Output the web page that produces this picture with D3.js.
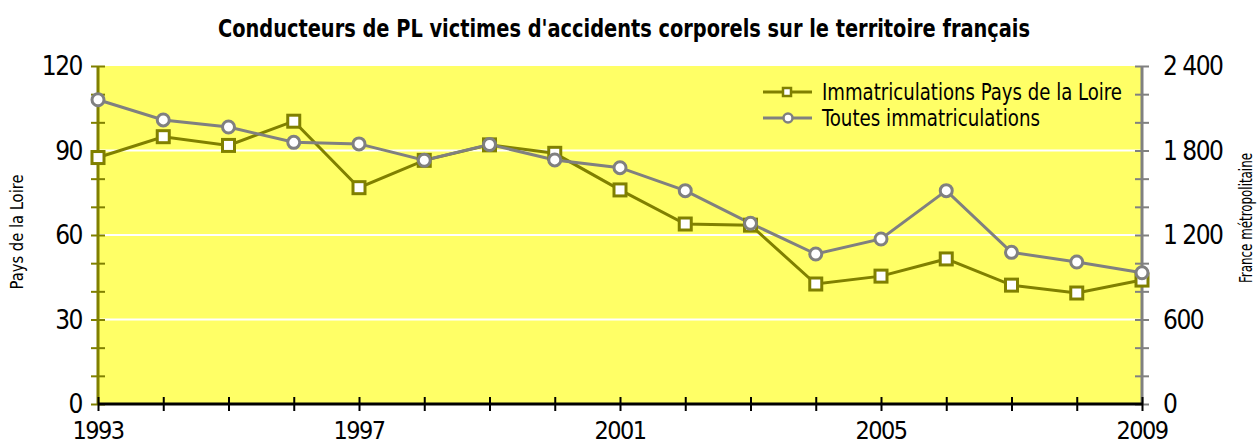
<!DOCTYPE html>
<html>
<head>
<meta charset="utf-8">
<script src="https://cdn.jsdelivr.net/npm/d3@7"></script>
<style>
  body { margin: 0; background: #fff; }
  svg text { font-family: "DejaVu Sans Condensed", "DejaVu Sans", sans-serif; fill: #000; }
</style>
</head>
<body>
<svg id="chart" width="1257" height="445"></svg>
<script>
// data
const years = [1993, 1994, 1995, 1996, 1997, 1998, 1999, 2000, 2001,
  2002, 2003, 2004, 2005, 2006, 2007, 2008, 2009];
const paysLoire = [87.5, 94.9, 91.8, 100.4, 76.8, 86.5, 92, 89, 76,
  63.9, 63.5, 42.6, 45.4, 51.5, 42.2, 39.4, 44];
const toutes = [2160, 2017, 1967, 1858, 1847, 1731, 1843, 1733, 1678,
  1515, 1283, 1065, 1172, 1515, 1077, 1008, 932];
const leftTicks = [0, 30, 60, 90, 120];
const rightTicks = [0, 600, 1200, 1800, 2400];
const yearLabels = [1993, 1997, 2001, 2005, 2009];
const titleText = "Conducteurs de PL victimes d'accidents corporels sur le territoire français";
const seriesNames = ["Immatriculations Pays de la Loire", "Toutes immatriculations"];

const olive = "#808000";
const grey = "#808080";

const svg = d3.select("#chart");
const plotLeft = 98, plotRight = 1142, plotTop = 66, plotBottom = 404;

const x = d3.scaleLinear().domain([1993, 2009]).range([plotLeft, plotRight]);
const yL = d3.scaleLinear().domain([0, 120]).range([plotBottom, plotTop]);
const yR = d3.scaleLinear().domain([0, 2400]).range([plotBottom, plotTop]);

// plot background
svg.append("rect")
  .attr("x", plotLeft).attr("y", plotTop)
  .attr("width", plotRight - plotLeft).attr("height", plotBottom - plotTop)
  .attr("fill", "#ffff66");

// white gridlines
svg.append("g").selectAll("line")
  .data(leftTicks.filter(d => d > 0 && d < 120))
  .enter().append("line")
  .attr("x1", plotLeft).attr("x2", plotRight)
  .attr("y1", d => yL(d)).attr("y2", d => yL(d))
  .attr("stroke", "#fff").attr("stroke-width", 2);

// left axis
const gL = svg.append("g").attr("transform", "translate(" + plotLeft + ",0)");
gL.call(d3.axisLeft(yL).tickValues(d3.range(0, 121, 10)).tickSize(7).tickFormat(""));
gL.selectAll(".tick line").clone().attr("x2", 7);
gL.selectAll("line, path").attr("stroke", olive).attr("stroke-width", 2);
gL.select(".domain").attr("d", "M0," + plotBottom + "V" + plotTop).attr("stroke-width", 3);
gL.selectAll(".tick text").remove();
svg.append("g").selectAll("text")
  .data(leftTicks).enter().append("text")
  .attr("x", plotLeft - 16).attr("y", d => yL(d) + 9)
  .attr("text-anchor", "end")
  .attr("font-size", 26).attr("letter-spacing", -1.5)
  .text(d => d);

// right axis
const gR = svg.append("g").attr("transform", "translate(" + plotRight + ",0)");
gR.call(d3.axisRight(yR).tickValues(d3.range(0, 2401, 200)).tickSize(7).tickFormat(""));
gR.selectAll(".tick line").clone().attr("x2", -7);
gR.selectAll("line, path").attr("stroke", grey).attr("stroke-width", 2);
gR.select(".domain").attr("d", "M0," + plotBottom + "V" + plotTop).attr("stroke-width", 3);
svg.append("g").selectAll("text")
  .data(rightTicks).enter().append("text")
  .attr("x", plotRight + 21).attr("y", d => yR(d) + 9)
  .attr("font-size", 26).attr("letter-spacing", -1.5)
  .text(d => d3.format(",")(d).replace(",", " "));

// bottom axis
const gB = svg.append("g").attr("transform", "translate(0," + plotBottom + ")");
gB.call(d3.axisBottom(x).tickValues(years).tickSize(7).tickFormat(""));
gB.selectAll(".tick line").clone().attr("y2", -7);
gB.selectAll("line").attr("stroke", "#000").attr("stroke-width", 2);
gB.select(".domain").attr("d", "M" + plotLeft + ",0H" + plotRight).attr("stroke", "#000").attr("stroke-width", 3);
svg.append("g").selectAll("text")
  .data(yearLabels).enter().append("text")
  .attr("x", d => x(d)).attr("y", 439)
  .attr("text-anchor", "middle")
  .attr("font-size", 25).attr("letter-spacing", -1.5)
  .text(d => d);

// series lines
const lineL = d3.line().x((d, i) => x(years[i])).y(d => yL(d));
const lineR = d3.line().x((d, i) => x(years[i])).y(d => yR(d));

svg.append("path").datum(paysLoire)
  .attr("d", lineL).attr("fill", "none")
  .attr("stroke", olive).attr("stroke-width", 3);
svg.append("path").datum(toutes)
  .attr("d", lineR).attr("fill", "none")
  .attr("stroke", grey).attr("stroke-width", 3);

svg.append("g").selectAll("rect")
  .data(paysLoire).enter().append("rect")
  .attr("x", (d, i) => x(years[i]) - 6).attr("y", d => yL(d) - 6)
  .attr("width", 12).attr("height", 12)
  .attr("fill", "#fff").attr("stroke", olive).attr("stroke-width", 3);
svg.append("g").selectAll("circle")
  .data(toutes).enter().append("circle")
  .attr("cx", (d, i) => x(years[i])).attr("cy", d => yR(d))
  .attr("r", 6)
  .attr("fill", "#fff").attr("stroke", grey).attr("stroke-width", 3);

// legend
const legend = svg.append("g");
const legY = [92, 118];
legend.append("line").attr("x1", 763).attr("x2", 812).attr("y1", legY[0]).attr("y2", legY[0])
  .attr("stroke", olive).attr("stroke-width", 3);
legend.append("rect").attr("x", 783).attr("y", legY[0] - 4).attr("width", 8).attr("height", 8)
  .attr("fill", "#fff").attr("stroke", olive).attr("stroke-width", 2.5);
legend.append("line").attr("x1", 763).attr("x2", 812).attr("y1", legY[1]).attr("y2", legY[1])
  .attr("stroke", grey).attr("stroke-width", 3);
legend.append("circle").attr("cx", 788).attr("cy", legY[1]).attr("r", 4.5)
  .attr("fill", "#fff").attr("stroke", grey).attr("stroke-width", 2.5);
legend.selectAll("text").data(seriesNames).enter().append("text")
  .attr("x", 822).attr("y", (d, i) => legY[i] + 8)
  .attr("font-size", 23)
  .attr("textLength", (d, i) => i === 0 ? 300 : 218)
  .attr("lengthAdjust", "spacingAndGlyphs")
  .text(d => d);

// title
svg.append("text")
  .attr("x", 624).attr("y", 37)
  .attr("text-anchor", "middle")
  .attr("font-size", 25).attr("font-weight", "bold")
  .attr("textLength", 812).attr("lengthAdjust", "spacingAndGlyphs")
  .text(titleText);

// axis titles
svg.append("text")
  .attr("transform", "translate(23,232) rotate(-90)")
  .attr("text-anchor", "middle")
  .attr("font-size", 17)
  .attr("textLength", 115).attr("lengthAdjust", "spacingAndGlyphs")
  .text("Pays de la Loire");
svg.append("text")
  .attr("transform", "translate(1252,218) rotate(-90)")
  .attr("text-anchor", "middle")
  .attr("font-size", 17)
  .attr("textLength", 130).attr("lengthAdjust", "spacingAndGlyphs")
  .text("France métropolitaine");
</script>
</body>
</html>
